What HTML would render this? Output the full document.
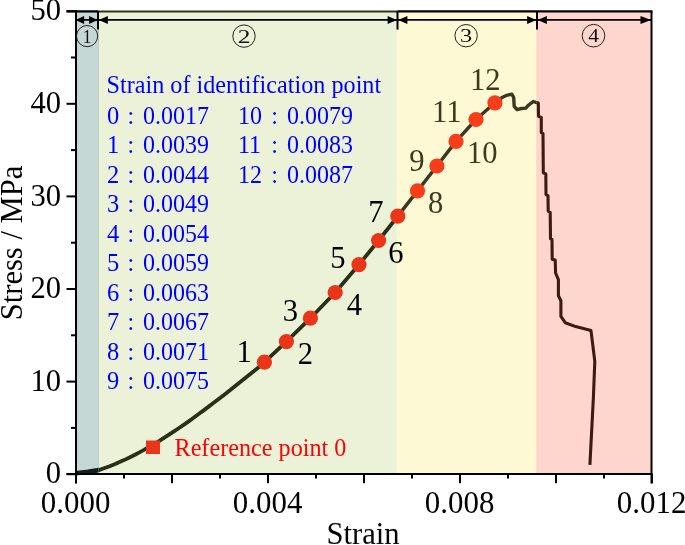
<!DOCTYPE html><html><head><meta charset="utf-8"><style>html,body{margin:0;padding:0;background:#fff;width:685px;height:545px;overflow:hidden}svg{display:block;will-change:transform}text{font-family:"Liberation Serif",serif}</style></head><body><svg width="685" height="545" viewBox="0 0 685 545"><rect x="76" y="11" width="22" height="463" fill="#c5d8d6"/><rect x="98" y="11" width="299" height="463" fill="#ecf2d8"/><rect x="98" y="11" width="1" height="463" fill="#bcd2bf"/><rect x="397" y="11" width="139.5" height="463" fill="#fef9d5"/><rect x="537" y="11" width="114.8" height="463" fill="#fed6ce"/><rect x="536" y="11" width="1" height="463" fill="#fde0c0"/><defs><clipPath id="c1"><rect x="0" y="0" width="98.3" height="545"/></clipPath><clipPath id="c2"><rect x="98.3" y="0" width="299" height="545"/></clipPath><clipPath id="c3"><rect x="397.3" y="0" width="139" height="545"/></clipPath><clipPath id="c4"><rect x="536.3" y="0" width="150" height="545"/></clipPath></defs><path clip-path="url(#c1)" d="M76.0,473.2 L88.0,471.8 L98.8,470.1 L104.0,468.3 L109.0,466.5 L114.0,464.5 L119.0,462.3 L124.0,460.1 L129.0,457.7 L134.0,455.2 L139.0,452.6 L144.0,449.9 L149.0,447.0 L154.0,444.1 L159.0,441.1 L164.0,437.9 L169.0,434.7 L174.0,431.4 L179.0,428.0 L184.0,424.6 L189.0,421.1 L194.0,417.5 L199.0,413.8 L204.0,410.1 L209.0,406.4 L214.0,402.6 L219.0,398.8 L224.0,394.9 L229.0,391.0 L234.0,387.0 L239.0,383.1 L244.0,379.1 L249.0,375.1 L254.0,371.1 L259.0,367.1 L264.4,362.2 L286.4,341.6 L310.4,318.2 L335.2,292.5 L359.0,264.6 L378.6,240.5 L397.8,216.1 L417.5,190.9 L436.9,166.0 L456.0,141.4 L476.0,119.5 L494.9,102.8 L501.6,97.8 L506.7,95.3 L511.9,94.2 L513.7,97.5 L514.2,106.3 L517.0,109.6 L521.4,108.5 L525.8,108.1 L528.0,105.6 L533.2,101.5 L535.7,102.3 L538.3,103.0 L538.5,116.3 L541.3,117.5 L541.3,132.6 L543.0,133.6 L543.3,172.8 L545.8,174.0 L546.0,194.6 L548.0,195.8 L548.2,211.1 L550.2,212.3 L550.5,238.8 L552.0,239.5 L552.2,259.2 L555.2,260.0 L555.6,273.0 L558.4,279.6 L558.4,295.7 L560.9,300.8 L560.9,316.3 L565.2,322.7 L575.7,326.6 L591.0,330.6 L594.8,361.4 L593.4,397.2 L589.9,464.8" fill="none" stroke="#0f1f1d" stroke-width="4.6" stroke-linejoin="round" stroke-linecap="butt"/><path clip-path="url(#c2)" d="M76.0,473.2 L88.0,471.8 L98.8,470.1 L104.0,468.3 L109.0,466.5 L114.0,464.5 L119.0,462.3 L124.0,460.1 L129.0,457.7 L134.0,455.2 L139.0,452.6 L144.0,449.9 L149.0,447.0 L154.0,444.1 L159.0,441.1 L164.0,437.9 L169.0,434.7 L174.0,431.4 L179.0,428.0 L184.0,424.6 L189.0,421.1 L194.0,417.5 L199.0,413.8 L204.0,410.1 L209.0,406.4 L214.0,402.6 L219.0,398.8 L224.0,394.9 L229.0,391.0 L234.0,387.0 L239.0,383.1 L244.0,379.1 L249.0,375.1 L254.0,371.1 L259.0,367.1 L264.4,362.2 L286.4,341.6 L310.4,318.2 L335.2,292.5 L359.0,264.6 L378.6,240.5 L397.8,216.1 L417.5,190.9 L436.9,166.0 L456.0,141.4 L476.0,119.5 L494.9,102.8 L501.6,97.8 L506.7,95.3 L511.9,94.2 L513.7,97.5 L514.2,106.3 L517.0,109.6 L521.4,108.5 L525.8,108.1 L528.0,105.6 L533.2,101.5 L535.7,102.3 L538.3,103.0 L538.5,116.3 L541.3,117.5 L541.3,132.6 L543.0,133.6 L543.3,172.8 L545.8,174.0 L546.0,194.6 L548.0,195.8 L548.2,211.1 L550.2,212.3 L550.5,238.8 L552.0,239.5 L552.2,259.2 L555.2,260.0 L555.6,273.0 L558.4,279.6 L558.4,295.7 L560.9,300.8 L560.9,316.3 L565.2,322.7 L575.7,326.6 L591.0,330.6 L594.8,361.4 L593.4,397.2 L589.9,464.8" fill="none" stroke="#283018" stroke-width="3.8" stroke-linejoin="round" stroke-linecap="butt"/><path clip-path="url(#c3)" d="M76.0,473.2 L88.0,471.8 L98.8,470.1 L104.0,468.3 L109.0,466.5 L114.0,464.5 L119.0,462.3 L124.0,460.1 L129.0,457.7 L134.0,455.2 L139.0,452.6 L144.0,449.9 L149.0,447.0 L154.0,444.1 L159.0,441.1 L164.0,437.9 L169.0,434.7 L174.0,431.4 L179.0,428.0 L184.0,424.6 L189.0,421.1 L194.0,417.5 L199.0,413.8 L204.0,410.1 L209.0,406.4 L214.0,402.6 L219.0,398.8 L224.0,394.9 L229.0,391.0 L234.0,387.0 L239.0,383.1 L244.0,379.1 L249.0,375.1 L254.0,371.1 L259.0,367.1 L264.4,362.2 L286.4,341.6 L310.4,318.2 L335.2,292.5 L359.0,264.6 L378.6,240.5 L397.8,216.1 L417.5,190.9 L436.9,166.0 L456.0,141.4 L476.0,119.5 L494.9,102.8 L501.6,97.8 L506.7,95.3 L511.9,94.2 L513.7,97.5 L514.2,106.3 L517.0,109.6 L521.4,108.5 L525.8,108.1 L528.0,105.6 L533.2,101.5 L535.7,102.3 L538.3,103.0 L538.5,116.3 L541.3,117.5 L541.3,132.6 L543.0,133.6 L543.3,172.8 L545.8,174.0 L546.0,194.6 L548.0,195.8 L548.2,211.1 L550.2,212.3 L550.5,238.8 L552.0,239.5 L552.2,259.2 L555.2,260.0 L555.6,273.0 L558.4,279.6 L558.4,295.7 L560.9,300.8 L560.9,316.3 L565.2,322.7 L575.7,326.6 L591.0,330.6 L594.8,361.4 L593.4,397.2 L589.9,464.8" fill="none" stroke="#3a381e" stroke-width="3.4" stroke-linejoin="round" stroke-linecap="butt"/><path clip-path="url(#c4)" d="M76.0,473.2 L88.0,471.8 L98.8,470.1 L104.0,468.3 L109.0,466.5 L114.0,464.5 L119.0,462.3 L124.0,460.1 L129.0,457.7 L134.0,455.2 L139.0,452.6 L144.0,449.9 L149.0,447.0 L154.0,444.1 L159.0,441.1 L164.0,437.9 L169.0,434.7 L174.0,431.4 L179.0,428.0 L184.0,424.6 L189.0,421.1 L194.0,417.5 L199.0,413.8 L204.0,410.1 L209.0,406.4 L214.0,402.6 L219.0,398.8 L224.0,394.9 L229.0,391.0 L234.0,387.0 L239.0,383.1 L244.0,379.1 L249.0,375.1 L254.0,371.1 L259.0,367.1 L264.4,362.2 L286.4,341.6 L310.4,318.2 L335.2,292.5 L359.0,264.6 L378.6,240.5 L397.8,216.1 L417.5,190.9 L436.9,166.0 L456.0,141.4 L476.0,119.5 L494.9,102.8 L501.6,97.8 L506.7,95.3 L511.9,94.2 L513.7,97.5 L514.2,106.3 L517.0,109.6 L521.4,108.5 L525.8,108.1 L528.0,105.6 L533.2,101.5 L535.7,102.3 L538.3,103.0 L538.5,116.3 L541.3,117.5 L541.3,132.6 L543.0,133.6 L543.3,172.8 L545.8,174.0 L546.0,194.6 L548.0,195.8 L548.2,211.1 L550.2,212.3 L550.5,238.8 L552.0,239.5 L552.2,259.2 L555.2,260.0 L555.6,273.0 L558.4,279.6 L558.4,295.7 L560.9,300.8 L560.9,316.3 L565.2,322.7 L575.7,326.6 L591.0,330.6 L594.8,361.4 L593.4,397.2 L589.9,464.8" fill="none" stroke="#3e1a12" stroke-width="3.1" stroke-linejoin="round" stroke-linecap="butt"/><circle cx="264.4" cy="362.2" r="7.6" fill="#eb3519"/><circle cx="286.4" cy="341.6" r="7.6" fill="#eb3519"/><circle cx="310.4" cy="318.2" r="7.6" fill="#eb3519"/><circle cx="335.2" cy="292.5" r="7.6" fill="#eb3519"/><circle cx="359" cy="264.6" r="7.6" fill="#eb3519"/><circle cx="378.6" cy="240.5" r="7.6" fill="#eb3519"/><circle cx="397.8" cy="216.1" r="7.6" fill="#eb3519"/><circle cx="417.5" cy="190.9" r="7.6" fill="#f73d1a"/><circle cx="436.9" cy="166" r="7.6" fill="#f73d1a"/><circle cx="456" cy="141.4" r="7.6" fill="#f73d1a"/><circle cx="476" cy="119.5" r="7.6" fill="#f73d1a"/><circle cx="494.9" cy="102.8" r="7.6" fill="#f73d1a"/><rect x="146" y="440.5" width="14" height="13.5" fill="#eb3519"/><g stroke="#000" stroke-width="2" fill="none"><line x1="76" y1="10" x2="76" y2="483.5"/><line x1="66.5" y1="474" x2="652.5" y2="474"/><line x1="651.5" y1="11.3" x2="651.5" y2="483.5"/><line x1="66.5" y1="11.4" x2="98" y2="11.4" stroke-width="2.3"/><line x1="397.5" y1="11.4" x2="652.5" y2="11.4" stroke-width="2.3"/><line x1="98" y1="11.5" x2="397.5" y2="11.5" stroke="#2f3519" stroke-width="2.1"/><line x1="66.5" y1="474.20" x2="76" y2="474.20"/><line x1="66.5" y1="381.60" x2="76" y2="381.60"/><line x1="66.5" y1="289.00" x2="76" y2="289.00"/><line x1="66.5" y1="196.40" x2="76" y2="196.40"/><line x1="66.5" y1="103.80" x2="76" y2="103.80"/><line x1="66.5" y1="11.20" x2="76" y2="11.20"/><line x1="71" y1="427.90" x2="76" y2="427.90"/><line x1="71" y1="335.30" x2="76" y2="335.30"/><line x1="71" y1="242.70" x2="76" y2="242.70"/><line x1="71" y1="150.10" x2="76" y2="150.10"/><line x1="71" y1="57.50" x2="76" y2="57.50"/><line x1="76.00" y1="474" x2="76.00" y2="483.3"/><line x1="124.00" y1="474" x2="124.00" y2="478.5"/><line x1="172.00" y1="474" x2="172.00" y2="483.3"/><line x1="220.00" y1="474" x2="220.00" y2="478.5"/><line x1="268.00" y1="474" x2="268.00" y2="483.3"/><line x1="316.00" y1="474" x2="316.00" y2="478.5"/><line x1="364.00" y1="474" x2="364.00" y2="483.3"/><line x1="412.00" y1="474" x2="412.00" y2="478.5"/><line x1="460.00" y1="474" x2="460.00" y2="483.3"/><line x1="508.00" y1="474" x2="508.00" y2="478.5"/><line x1="556.00" y1="474" x2="556.00" y2="483.3"/><line x1="604.00" y1="474" x2="604.00" y2="478.5"/><line x1="652.00" y1="474" x2="652.00" y2="483.3"/></g><g stroke="#000" stroke-width="2"><line x1="98" y1="11" x2="98" y2="29.6"/><line x1="397.5" y1="11" x2="397.5" y2="29.6"/><line x1="537" y1="11" x2="537" y2="29.6"/></g><line x1="77" y1="19.9" x2="651" y2="19.9" stroke="#000" stroke-width="1.9"/><path d="M75.5,19.9 L84.1,15.899999999999999 L84.1,23.9 Z" fill="#000"/><path d="M97.5,19.9 L89.1,15.899999999999999 L89.1,23.9 Z" fill="#000"/><path d="M98.7,19.9 L107.9,15.899999999999999 L107.9,23.9 Z" fill="#000"/><path d="M396.8,19.9 L387.6,15.899999999999999 L387.6,23.9 Z" fill="#000"/><path d="M398.2,19.9 L407.4,15.899999999999999 L407.4,23.9 Z" fill="#000"/><path d="M536.3,19.9 L527.0999999999999,15.899999999999999 L527.0999999999999,23.9 Z" fill="#000"/><path d="M537.7,19.9 L546.9000000000001,15.899999999999999 L546.9000000000001,23.9 Z" fill="#000"/><path d="M651,19.9 L640.5,15.899999999999999 L640.5,23.9 Z" fill="#000"/><circle cx="87.1" cy="36.1" r="10.6" fill="none" stroke="#222" stroke-width="1"/><text transform="translate(87.1,42.6) scale(0.9,1)" x="0" y="0" font-size="19.5" text-anchor="middle" fill="#111">1</text><circle cx="244" cy="36.1" r="11.2" fill="none" stroke="#222" stroke-width="1"/><text transform="translate(244,42.6) scale(1.3,1)" x="0" y="0" font-size="19.5" text-anchor="middle" fill="#111">2</text><circle cx="466.1" cy="35.7" r="11.2" fill="none" stroke="#222" stroke-width="1"/><text transform="translate(466.1,42.2) scale(1.25,1)" x="0" y="0" font-size="19.5" text-anchor="middle" fill="#111">3</text><circle cx="593.5" cy="35.7" r="11.3" fill="none" stroke="#222" stroke-width="1"/><text transform="translate(593.5,42.2) scale(1.1,1)" x="0" y="0" font-size="19.5" text-anchor="middle" fill="#111">4</text><text transform="translate(61.00,483.45) scale(1.02,1.065)" font-size="30" text-anchor="end" fill="#000">0</text><text transform="translate(61.00,390.85) scale(1.02,1.065)" font-size="30" text-anchor="end" fill="#000">10</text><text transform="translate(61.00,298.25) scale(1.02,1.065)" font-size="30" text-anchor="end" fill="#000">20</text><text transform="translate(61.00,205.65) scale(1.02,1.065)" font-size="30" text-anchor="end" fill="#000">30</text><text transform="translate(61.00,113.05) scale(1.02,1.065)" font-size="30" text-anchor="end" fill="#000">40</text><text transform="translate(61.00,20.45) scale(1.02,1.065)" font-size="30" text-anchor="end" fill="#000">50</text><text transform="translate(75.60,513.30) scale(1.03,1.065)" font-size="30" text-anchor="middle" fill="#000">0.000</text><text transform="translate(267.60,513.30) scale(1.03,1.065)" font-size="30" text-anchor="middle" fill="#000">0.004</text><text transform="translate(459.60,513.30) scale(1.03,1.065)" font-size="30" text-anchor="middle" fill="#000">0.008</text><text transform="translate(651.60,513.30) scale(1.03,1.065)" font-size="30" text-anchor="middle" fill="#000">0.012</text><text transform="translate(363.10,543.50) scale(1.02,1.065)" font-size="30" text-anchor="middle" fill="#000">Strain</text><text transform="translate(21.8,320.3) rotate(-90) scale(1.02,1.065)" x="0" y="0" font-size="30">Stress / MPa</text><text transform="translate(106.50,93.00) scale(1.008,1.065)" font-size="24" text-anchor="start" fill="#0000ff">Strain of identification point</text><text transform="translate(107.00,123.70) scale(1.02,1.065)" font-size="24" text-anchor="start" fill="#0000ff">0</text><text transform="translate(127.50,123.70) scale(1.0,1.065)" font-size="24" text-anchor="start" fill="#0000ff">:</text><text transform="translate(143.00,123.70) scale(1.0,1.065)" font-size="24" text-anchor="start" fill="#0000ff">0.0017</text><text transform="translate(107.00,153.23) scale(1.02,1.065)" font-size="24" text-anchor="start" fill="#0000ff">1</text><text transform="translate(127.50,153.23) scale(1.0,1.065)" font-size="24" text-anchor="start" fill="#0000ff">:</text><text transform="translate(143.00,153.23) scale(1.0,1.065)" font-size="24" text-anchor="start" fill="#0000ff">0.0039</text><text transform="translate(107.00,182.76) scale(1.02,1.065)" font-size="24" text-anchor="start" fill="#0000ff">2</text><text transform="translate(127.50,182.76) scale(1.0,1.065)" font-size="24" text-anchor="start" fill="#0000ff">:</text><text transform="translate(143.00,182.76) scale(1.0,1.065)" font-size="24" text-anchor="start" fill="#0000ff">0.0044</text><text transform="translate(107.00,212.29) scale(1.02,1.065)" font-size="24" text-anchor="start" fill="#0000ff">3</text><text transform="translate(127.50,212.29) scale(1.0,1.065)" font-size="24" text-anchor="start" fill="#0000ff">:</text><text transform="translate(143.00,212.29) scale(1.0,1.065)" font-size="24" text-anchor="start" fill="#0000ff">0.0049</text><text transform="translate(107.00,241.82) scale(1.02,1.065)" font-size="24" text-anchor="start" fill="#0000ff">4</text><text transform="translate(127.50,241.82) scale(1.0,1.065)" font-size="24" text-anchor="start" fill="#0000ff">:</text><text transform="translate(143.00,241.82) scale(1.0,1.065)" font-size="24" text-anchor="start" fill="#0000ff">0.0054</text><text transform="translate(107.00,271.35) scale(1.02,1.065)" font-size="24" text-anchor="start" fill="#0000ff">5</text><text transform="translate(127.50,271.35) scale(1.0,1.065)" font-size="24" text-anchor="start" fill="#0000ff">:</text><text transform="translate(143.00,271.35) scale(1.0,1.065)" font-size="24" text-anchor="start" fill="#0000ff">0.0059</text><text transform="translate(107.00,300.88) scale(1.02,1.065)" font-size="24" text-anchor="start" fill="#0000ff">6</text><text transform="translate(127.50,300.88) scale(1.0,1.065)" font-size="24" text-anchor="start" fill="#0000ff">:</text><text transform="translate(143.00,300.88) scale(1.0,1.065)" font-size="24" text-anchor="start" fill="#0000ff">0.0063</text><text transform="translate(107.00,330.41) scale(1.02,1.065)" font-size="24" text-anchor="start" fill="#0000ff">7</text><text transform="translate(127.50,330.41) scale(1.0,1.065)" font-size="24" text-anchor="start" fill="#0000ff">:</text><text transform="translate(143.00,330.41) scale(1.0,1.065)" font-size="24" text-anchor="start" fill="#0000ff">0.0067</text><text transform="translate(107.00,359.94) scale(1.02,1.065)" font-size="24" text-anchor="start" fill="#0000ff">8</text><text transform="translate(127.50,359.94) scale(1.0,1.065)" font-size="24" text-anchor="start" fill="#0000ff">:</text><text transform="translate(143.00,359.94) scale(1.0,1.065)" font-size="24" text-anchor="start" fill="#0000ff">0.0071</text><text transform="translate(107.00,389.47) scale(1.02,1.065)" font-size="24" text-anchor="start" fill="#0000ff">9</text><text transform="translate(127.50,389.47) scale(1.0,1.065)" font-size="24" text-anchor="start" fill="#0000ff">:</text><text transform="translate(143.00,389.47) scale(1.0,1.065)" font-size="24" text-anchor="start" fill="#0000ff">0.0075</text><text transform="translate(238.00,123.70) scale(1.0,1.065)" font-size="24" text-anchor="start" fill="#0000ff">10</text><text transform="translate(271.20,123.70) scale(1.0,1.065)" font-size="24" text-anchor="start" fill="#0000ff">:</text><text transform="translate(287.00,123.70) scale(1.0,1.065)" font-size="24" text-anchor="start" fill="#0000ff">0.0079</text><text transform="translate(238.00,153.23) scale(1.0,1.065)" font-size="24" text-anchor="start" fill="#0000ff">11</text><text transform="translate(271.20,153.23) scale(1.0,1.065)" font-size="24" text-anchor="start" fill="#0000ff">:</text><text transform="translate(287.00,153.23) scale(1.0,1.065)" font-size="24" text-anchor="start" fill="#0000ff">0.0083</text><text transform="translate(238.00,182.76) scale(1.0,1.065)" font-size="24" text-anchor="start" fill="#0000ff">12</text><text transform="translate(271.20,182.76) scale(1.0,1.065)" font-size="24" text-anchor="start" fill="#0000ff">:</text><text transform="translate(287.00,182.76) scale(1.0,1.065)" font-size="24" text-anchor="start" fill="#0000ff">0.0087</text><text transform="translate(174.50,455.80) scale(1.008,1.065)" font-size="24" text-anchor="start" fill="#ff0000">Reference point 0</text><text transform="translate(244.25,362.15) scale(1.02,1.065)" font-size="30" text-anchor="middle" fill="#000">1</text><text transform="translate(305.50,364.40) scale(1.02,1.065)" font-size="30" text-anchor="middle" fill="#000">2</text><text transform="translate(290.50,321.15) scale(1.02,1.065)" font-size="30" text-anchor="middle" fill="#000">3</text><text transform="translate(354.50,314.65) scale(1.02,1.065)" font-size="30" text-anchor="middle" fill="#000">4</text><text transform="translate(338.00,268.15) scale(1.02,1.065)" font-size="30" text-anchor="middle" fill="#000">5</text><text transform="translate(396.00,263.15) scale(1.02,1.065)" font-size="30" text-anchor="middle" fill="#000">6</text><text transform="translate(376.00,222.40) scale(1.02,1.065)" font-size="30" text-anchor="middle" fill="#000">7</text><text transform="translate(435.75,213.40) scale(1.02,1.065)" font-size="30" text-anchor="middle" fill="#3c3b1e">8</text><text transform="translate(417.00,171.40) scale(1.02,1.065)" font-size="30" text-anchor="middle" fill="#3c3b1e">9</text><text transform="translate(482.25,162.90) scale(1.02,1.065)" font-size="30" text-anchor="middle" fill="#3c3b1e">10</text><text transform="translate(446.75,121.90) scale(1.02,1.065)" font-size="30" text-anchor="middle" fill="#3c3b1e">11</text><text transform="translate(485.25,90.40) scale(1.02,1.065)" font-size="30" text-anchor="middle" fill="#3c3b1e">12</text></svg></body></html>
